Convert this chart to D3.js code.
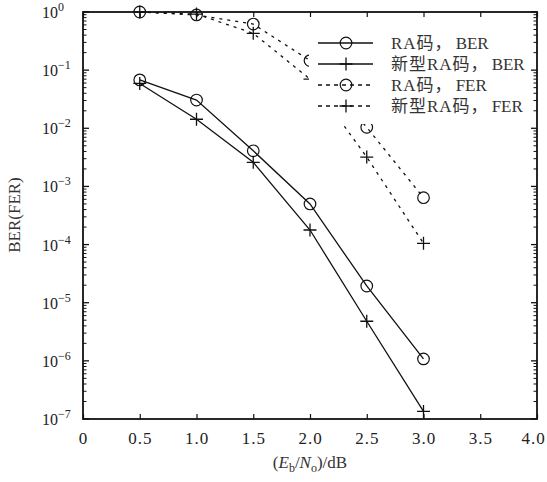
<!DOCTYPE html>
<html>
<head>
<meta charset="utf-8">
<script src="https://cdn.jsdelivr.net/npm/d3@7"></script>
<style>
  html, body { margin: 0; padding: 0; background: #fff; }
  svg { display: block; }
</style>
</head>
<body>
<svg id="chart" width="547" height="482"></svg>
<script>
// Eb/N0 operating points (dB)
const snr = [0.5, 1.0, 1.5, 2.0, 2.5, 3.0];

// error-rate curves
const raBer    = [0.068, 0.0306, 0.0041, 5.0e-4, 1.94e-5, 1.08e-6];
const newBer   = [0.059, 0.0143, 0.0026, 1.78e-4, 4.8e-6, 1.35e-7];
const raFer    = [1.0, 0.89, 0.62, 0.146, 0.0104, 6.4e-4];
const newFer   = [1.0, 0.92, 0.43, 0.070, 0.0032, 1.05e-4];

const seriesNames = [["RA码，", "BER"], ["新型RA码，", "BER"], ["RA码，", "FER"], ["新型RA码，", "FER"]];
const xTicks = [0, 0.5, 1.0, 1.5, 2.0, 2.5, 3.0, 3.5, 4.0];
const xTickLabels = ["0", "0.5", "1.0", "1.5", "2.0", "2.5", "3.0", "3.5", "4.0"];
const yExponents = [0, -1, -2, -3, -4, -5, -6, -7];

const FONT = "'Liberation Serif', 'Times New Roman', 'Noto Sans CJK SC', serif";

const svg = d3.select("#chart");
const L = 83, R = 537, T = 12, B = 419;

const x = d3.scaleLinear().domain([0, 4]).range([L, R]);
const y = d3.scaleLog().domain([1e-7, 1]).range([B, T]);

const series = [
  { name: seriesNames[0], values: raBer,  marker: "circle", dash: null },
  { name: seriesNames[1], values: newBer, marker: "plus",   dash: null },
  { name: seriesNames[2], values: raFer,  marker: "circle", dash: "3,5" },
  { name: seriesNames[3], values: newFer, marker: "plus",   dash: "3,5" }
];

const line = d3.line().x((d, i) => x(snr[i])).y(d => y(d));

function drawMarker(g, type, cx, cy) {
  if (type === "circle") {
    g.append("circle").attr("cx", cx).attr("cy", cy).attr("r", 5.8)
      .attr("fill", "none").attr("stroke", "#111").attr("stroke-width", 1.2);
  } else {
    g.append("path")
      .attr("d", `M${cx - 6.5},${cy}H${cx + 6.5}M${cx},${cy - 6.5}V${cy + 6.5}`)
      .attr("stroke", "#111").attr("stroke-width", 1.3).attr("fill", "none");
  }
}

// curves
const plot = svg.append("g");
series.forEach(s => {
  plot.append("path").datum(s.values)
    .attr("d", line)
    .attr("fill", "none").attr("stroke", "#111").attr("stroke-width", 1.3)
    .attr("stroke-dasharray", s.dash);
  s.values.forEach((v, i) => drawMarker(plot, s.marker, x(snr[i]), y(v)));
});

// legend (white panel sits over the curves)
const leg = svg.append("g");
leg.append("rect").attr("x", 309).attr("y", 28).attr("width", 222).attr("height", 96).attr("fill", "#fff");
const rowY = [43, 64, 85, 106];
series.forEach((s, i) => {
  const ly = rowY[i];
  leg.append("line").attr("x1", 318).attr("x2", 373).attr("y1", ly).attr("y2", ly)
    .attr("stroke", "#111").attr("stroke-width", 1.3)
    .attr("stroke-dasharray", s.dash ? "4,4" : null);
  drawMarker(leg, s.marker, 346, ly);
  const t = leg.append("text").attr("x", 391).attr("y", ly + 6)
    .style("font-family", FONT).style("font-size", "17px").style("fill", "#333");
  t.append("tspan").style("letter-spacing", "1px").text(s.name[0]);
  t.append("tspan").attr("dx", 3).text(s.name[1]);
});

// frame
svg.append("rect").attr("x", L).attr("y", T).attr("width", R - L).attr("height", B - T)
  .attr("fill", "none").attr("stroke", "#111").attr("stroke-width", 1.8);

// x ticks (inward, top and bottom)
const xAxisB = d3.axisBottom(x).tickValues(xTicks).tickSizeInner(-5).tickSizeOuter(0)
  .tickFormat((d, i) => xTickLabels[i]).tickPadding(13);
const gxb = svg.append("g").attr("transform", `translate(0,${B})`).call(xAxisB);
gxb.select(".domain").remove();
gxb.selectAll(".tick line").attr("stroke", "#111").attr("stroke-width", 1.2);
gxb.selectAll(".tick text")
  .style("font-family", FONT).style("font-size", "17px")
  .style("fill", "#222").style("letter-spacing", "1px");
// keep the last label inside the canvas edge
gxb.selectAll(".tick text").filter(d => d === 4).attr("dx", -4);

const xAxisT = d3.axisTop(x).tickValues(xTicks).tickSizeInner(-5).tickSizeOuter(0).tickFormat("");
const gxt = svg.append("g").attr("transform", `translate(0,${T})`).call(xAxisT);
gxt.select(".domain").remove();
gxt.selectAll(".tick line").attr("stroke", "#111").attr("stroke-width", 1.2);

// y ticks: decades and log minors, inward on both sides
const majors = yExponents.map(e => Math.pow(10, e));
const minors = [];
yExponents.slice(1).forEach(e => {
  for (let m = 2; m <= 9; m++) minors.push(m * Math.pow(10, e));
});

[[L, 1], [R, -1]].forEach(([px, dir]) => {
  const g = svg.append("g");
  majors.forEach(v => g.append("line").attr("x1", px).attr("x2", px + dir * 6)
    .attr("y1", y(v)).attr("y2", y(v)).attr("stroke", "#111").attr("stroke-width", 1.3));
  minors.forEach(v => g.append("line").attr("x1", px).attr("x2", px + dir * 3.5)
    .attr("y1", y(v)).attr("y2", y(v)).attr("stroke", "#111").attr("stroke-width", 1));
});

// y tick labels 10^n
const ylab = svg.append("g");
yExponents.forEach(e => {
  const t = ylab.append("text").attr("x", 42).attr("y", y(Math.pow(10, e)) + 6)
    .style("font-family", FONT).style("font-size", "16px").style("fill", "#222");
  t.append("tspan").text("10");
  t.append("tspan").attr("dy", -7).style("font-size", "12px")
    .text(e === 0 ? "0" : "\u2212" + Math.abs(e));
});

// axis titles
svg.append("text").attr("transform", "translate(20,215) rotate(-90)")
  .attr("text-anchor", "middle")
  .style("font-family", FONT).style("font-size", "17px").style("fill", "#333")
  .text("BER(FER)");

const xt = svg.append("text").attr("x", 310).attr("y", 468).attr("text-anchor", "middle")
  .style("font-family", FONT).style("font-size", "17px").style("fill", "#333");
xt.append("tspan").text("(");
xt.append("tspan").style("font-style", "italic").text("E");
xt.append("tspan").style("font-size", "12px").attr("dy", 4).text("b");
xt.append("tspan").attr("dy", -4).text("/");
xt.append("tspan").style("font-style", "italic").text("N");
xt.append("tspan").style("font-size", "12px").attr("dy", 4).text("o");
xt.append("tspan").attr("dy", -4).text(")/dB");
</script>
</body>
</html>
